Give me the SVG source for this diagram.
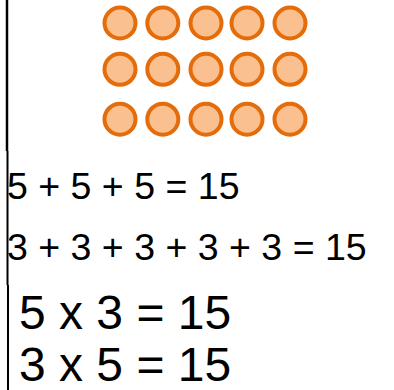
<svg xmlns="http://www.w3.org/2000/svg" width="394" height="390" viewBox="0 0 394 390">
<style>
.c{fill:#FAC090;stroke:#E46C0A;stroke-width:4}
.t{font-family:"Liberation Sans",Arial,sans-serif;fill:#000}
.s{font-size:37.5px}
.b{font-size:48px}
.ln{stroke:#000;fill:none}
</style>
<rect width="394" height="390" fill="#fff"/>
<g id="border">
<line class="ln" x1="7" y1="0" x2="7" y2="151" stroke-width="2.5"/>
<line class="ln" x1="7.5" y1="151" x2="7.5" y2="285" stroke-width="2"/>
<line class="ln" x1="8" y1="285" x2="8" y2="390" stroke-width="2"/>
</g>
<g id="array">
<g id="row1">
<circle class="c" cx="120" cy="23" r="15.5"/>
<circle class="c" cx="162.8" cy="23" r="15.5"/>
<circle class="c" cx="206" cy="23" r="15.5"/>
<circle class="c" cx="247" cy="23" r="15.5"/>
<circle class="c" cx="290" cy="23" r="15.5"/>
</g>
<g id="row2">
<circle class="c" cx="120" cy="69.3" r="15.5"/>
<circle class="c" cx="162.8" cy="69.3" r="15.5"/>
<circle class="c" cx="206" cy="69.3" r="15.5"/>
<circle class="c" cx="247" cy="69.3" r="15.5"/>
<circle class="c" cx="290" cy="69.3" r="15.5"/>
</g>
<g id="row3">
<circle class="c" cx="120" cy="119.2" r="15.5"/>
<circle class="c" cx="162.8" cy="119.2" r="15.5"/>
<circle class="c" cx="206" cy="119.2" r="15.5"/>
<circle class="c" cx="247" cy="119.2" r="15.5"/>
<circle class="c" cx="290" cy="119.2" r="15.5"/>
</g>
</g>
<g id="equations">
<text class="t s" x="7" y="198.5">5 + 5 + 5 = 15</text>
<text class="t s" x="7" y="259.5">3 + 3 + 3 + 3 + 3 = 15</text>
<text class="t b" x="19" y="329">5 x 3 = 15</text>
<text class="t b" x="19" y="381">3 x 5 = 15</text>
</g>
</svg>
